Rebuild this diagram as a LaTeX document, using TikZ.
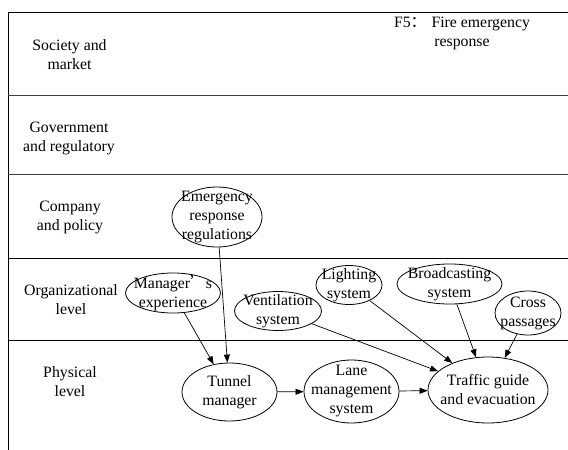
\documentclass[tikz,border=0pt]{standalone}
\usepackage{fontspec}
\setmainfont{Liberation Serif}
\newfontfamily\cjk{Noto Sans CJK SC}
\usetikzlibrary{shapes.geometric,arrows.meta}
\begin{document}
\begin{tikzpicture}[x=1pt,y=-1pt,
  every node/.style={font=\fontsize{15.8}{19}\selectfont, align=center, inner sep=0pt},
  ell/.style={draw, ellipse, line width=0.8pt},
  arr/.style={-{Triangle[length=8pt,width=6pt]}, line width=0.7pt},
  sep/.style={line width=0.9pt}]
\useasboundingbox (0,0) rectangle (568,450);
% frame
\coordinate (tl) at (8,12); \coordinate (tr) at (568,12);
\coordinate (bl) at (8,450);
\draw[sep] (tl) -- (tr);
\draw[sep] (tl) -- (bl);
\coordinate (l1a) at (8,95);  \coordinate (l1b) at (568,95);
\coordinate (l2a) at (8,174); \coordinate (l2b) at (568,174);
\coordinate (l3a) at (8,258); \coordinate (l3b) at (568,258);
\coordinate (l4a) at (8,340); \coordinate (l4b) at (568,340);
\draw[sep, black!75] (l1a) -- (l1b);
\draw[sep, black!75] (l2a) -- (l2b);
\draw[sep] (l3a) -- (l3b);
\draw[sep] (l4a) -- (l4b);
% level labels
\node (soc) at (69.5,55) {Society and\\market};
\node (gov) at (69,138) {Government\\and regulatory};
\node (comp) at (70,217) {Company\\and policy};
\node (org) at (71,300) {Organizational\\level};
\node (phys) at (70,382) {Physical\\level};
\node (title) at (462,33) {F5{\cjk ：}\hspace{5pt}Fire emergency\\response};
% ellipses
\node[ell, minimum width=90, minimum height=60] (emr) at (217,217) {};
\node[ell, minimum width=95, minimum height=40] (mexp) at (173,293) {};
\node[ell, minimum width=87, minimum height=39] (vent) at (278,311) {};
\node[ell, minimum width=66, minimum height=39] (light) at (349,285) {};
\node[ell, minimum width=105, minimum height=40] (broad) at (449.5,284) {};
\node[ell, minimum width=66, minimum height=44] (cross) at (528,313) {};
\node[ell, minimum width=95, minimum height=58] (tm) at (229.5,392) {};
\node[ell, minimum width=95, minimum height=63] (lane) at (351.5,391.5) {};
\node[ell, minimum width=120, minimum height=66] (traffic) at (488,390) {};
% ellipse texts
\node (emrT) at (emr) {Emergency\\response\\regulations};
\node (mexpT) at (mexp) {Manager{\cjk ’}s\\experience};
\node (ventT) at (vent) {Ventilation\\system};
\node (lightT) at (light) {Lighting\\system};
\node (broadT) at (broad) {Broadcasting\\system};
\node (crossT) at (cross) {Cross\\passages};
\node (tmT) at (tm) {Tunnel\\manager};
\node (laneT) at (lane) {Lane\\management\\system};
\node (trafficT) at (traffic) {Traffic guide\\and evacuation};
% arrows
\draw[arr] (emr) -- (tm);
\draw[arr] (mexp) -- (tm);
\draw[arr] (vent) -- (traffic);
\draw[arr] (light) -- (traffic);
\draw[arr] (broad) -- (traffic);
\draw[arr] (cross) -- (traffic);
\draw[arr] (tm) -- (lane);
\draw[arr] (lane) -- (traffic);
\end{tikzpicture}
\end{document}
